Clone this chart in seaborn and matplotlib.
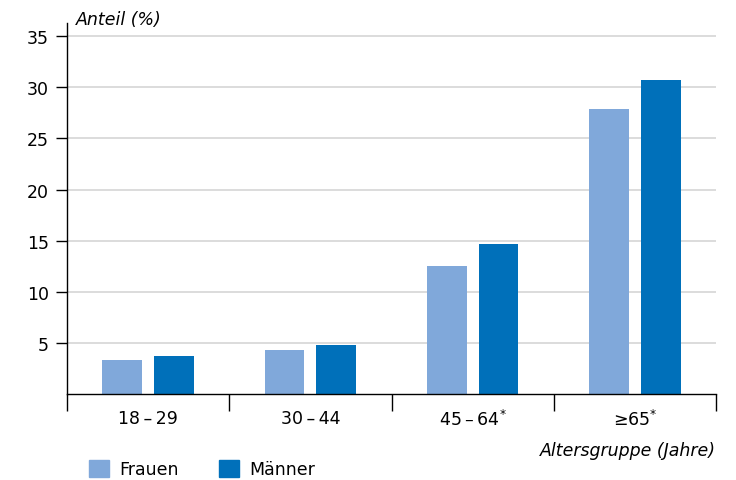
import pandas as pd
import seaborn as sns
import matplotlib.pyplot as plt
from matplotlib.patches import Patch

groups = ["18\u2009–\u200929", "30\u2009–\u200944", "45\u2009–\u200964$^{*}$", "≥65$^{*}$"]
frauen = [3.3, 4.3, 12.5, 27.9]
maenner = [3.7, 4.8, 14.7, 30.7]
yticks = [5, 10, 15, 20, 25, 30, 35]

df = pd.DataFrame({
    "Altersgruppe": groups * 2,
    "Anteil": frauen + maenner,
    "Geschlecht": ["Frauen"] * 4 + ["Männer"] * 4,
})

colors = {"Frauen": "#80a8da", "Männer": "#0070ba"}

sns.set_style("white")
plt.rcParams['font.family'] = ['DejaVu Sans']
plt.rcParams['mathtext.fontset'] = 'dejavusans'
plt.rcParams['text.color'] = 'black'
plt.rcParams['xtick.color'] = 'black'
plt.rcParams['ytick.color'] = 'black'

fs = 12.5

fig = plt.figure(figsize=(7.36, 4.81), dpi=100)
ax = fig.add_axes([67/736, 1 - 395/481, (716-67)/736, (395-24)/481])

sns.barplot(data=df, x="Altersgruppe", y="Anteil", hue="Geschlecht",
            palette=colors, width=0.638, gap=0.23, ax=ax, legend=False,
            saturation=1, linewidth=0)

ax.set_xlim(-0.5, 3.5)
ax.set_ylim(0, 36.3)
ax.set_yticks(yticks)
ax.set_yticklabels([str(t) for t in yticks], fontsize=fs)
ax.yaxis.grid(True, color="#d9d9d9", lw=1.3)
ax.set_axisbelow(True)
for s in ["top", "right"]:
    ax.spines[s].set_visible(False)
for s in ["left", "bottom"]:
    ax.spines[s].set_color("black")
    ax.spines[s].set_linewidth(1)
ax.tick_params(axis="y", length=8, width=1, color="black", left=True, pad=5)
ax.tick_params(axis="x", length=0, labelsize=fs, pad=11)
ax.set_xticks([-0.5, 0.5, 1.5, 2.5, 3.5], minor=True)
ax.tick_params(axis="x", which="minor", length=12, width=1, color="black", bottom=True)
ax.set_xlabel("")
ax.set_ylabel("")

fig.text(76/736, 1 - 20/481, "Anteil (%)", style="italic", fontsize=fs, va="center", ha="left")
fig.text(716/736, 1 - 451/481, "Altersgruppe (Jahre)", style="italic", fontsize=fs, va="center", ha="right")

handles = [Patch(color=colors["Frauen"], label="Frauen"),
           Patch(color=colors["Männer"], label="Männer")]
fig.legend(handles=handles, loc="center left", bbox_to_anchor=(89/736, 1 - 470/481),
           ncol=2, frameon=False, fontsize=fs, handlelength=1.15, handleheight=1.15,
           columnspacing=2.3, handletextpad=0.6, borderpad=0, borderaxespad=0)

fig.savefig("out.png", dpi=100)
